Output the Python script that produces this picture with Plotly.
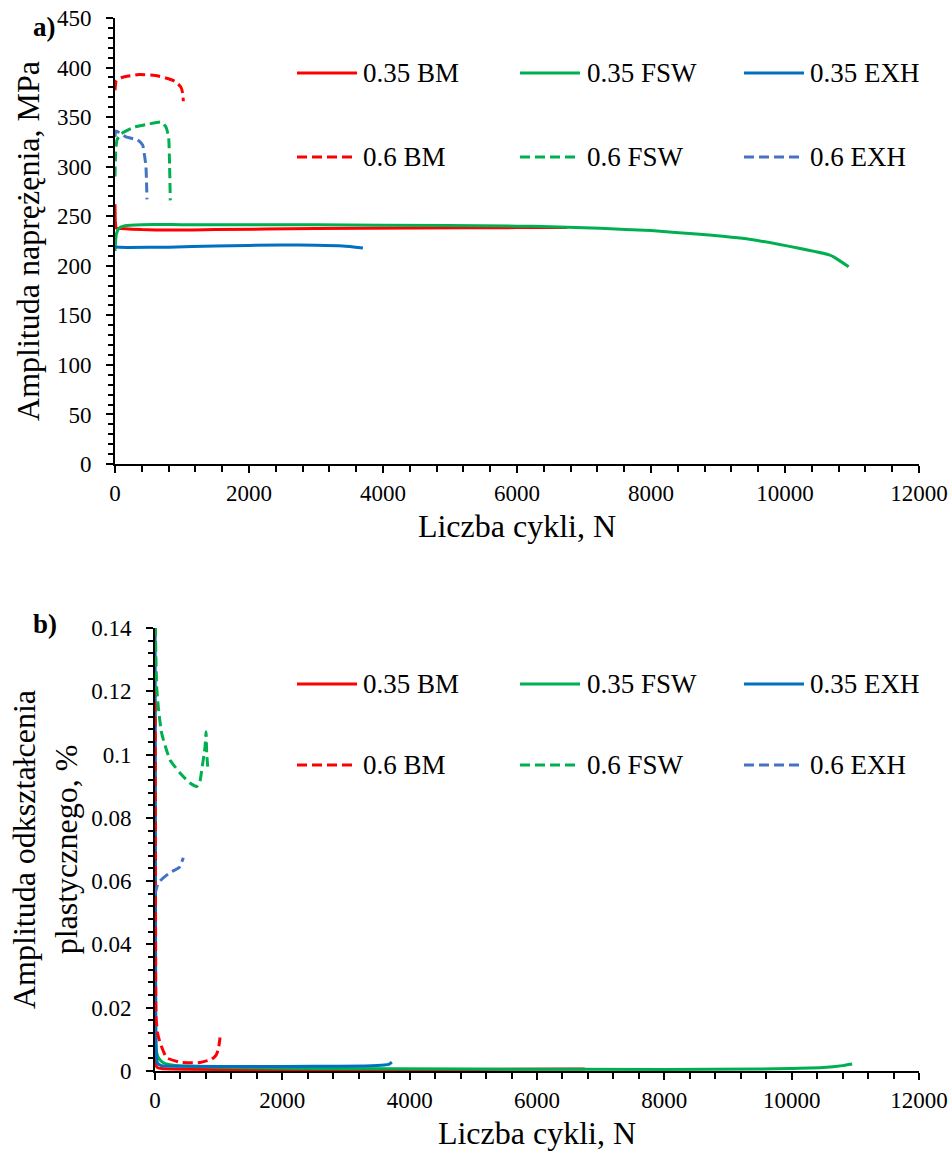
import plotly.graph_objects as go

# ---------------- data: (a) stress amplitude ----------------
bm35_n = [0, 5, 20, 100, 400, 800, 1500, 3000, 4500, 6000, 6750]
bm35_s = [262, 245, 238, 237.5, 236.5, 236, 236.5, 237.5, 238, 238.5, 238.5]

fsw35_n = [0, 20, 60, 150, 400, 1000, 2000, 4000, 6000, 6500, 7240, 8000, 8730, 9470, 10210, 10660, 10750, 10950]
fsw35_s = [215, 232, 238, 240.5, 241.5, 241.5, 241.5, 241, 240, 239.5, 237.8, 235.5, 231.7, 226.7, 217.6, 211, 208, 199]

exh35_n = [0, 200, 800, 1500, 2500, 3000, 3400, 3700]
exh35_s = [219, 218.5, 218.8, 220, 221, 220.8, 220, 218]

bm06_n = [0, 20, 100, 357, 600, 785, 900, 985, 1010, 1020]
bm06_s = [377, 387, 390, 393, 392, 389, 386, 380, 374, 366]

fsw06_n = [0, 10, 30, 90, 290, 500, 690, 760, 800, 815, 825]
fsw06_s = [290, 315, 327, 333, 340, 343, 345, 340, 330, 300, 266]

exh06_n = [0, 15, 164, 337, 412, 437, 462, 477]
exh06_s = [330, 336, 330, 327, 322, 313, 300, 267]

# ---------------- data: (b) plastic strain amplitude ----------------
bm35e_n = [1, 10, 30, 100, 1000, 3000, 5000, 6750]
bm35e_e = [0.012, 0.003, 0.0012, 0.0008, 0.0005, 0.0005, 0.0005, 0.0006]

fsw35e_n = [1, 10, 30, 60, 131, 288, 1000, 2500, 5000, 8000, 9500, 10000, 10500, 10800, 10950]
fsw35e_e = [0.012, 0.009, 0.0055, 0.004, 0.0026, 0.0018, 0.0012, 0.0008, 0.0006, 0.0005, 0.0006, 0.0008, 0.0011, 0.0017, 0.0022]

exh35e_n = [0, 5, 10, 20, 40, 100, 500, 1500, 2500, 3300, 3600, 3680, 3720]
exh35e_e = [0.15, 0.1, 0.03, 0.006, 0.0025, 0.0017, 0.0015, 0.0014, 0.0015, 0.0016, 0.0019, 0.0022, 0.0028]

bm06e_n = [0, 5, 10, 16, 40, 79, 184, 393, 680, 890, 960, 995, 1022]
bm06e_e = [0.15, 0.08, 0.03, 0.0172, 0.012, 0.009, 0.0042, 0.0028, 0.0026, 0.0037, 0.005, 0.0069, 0.0106]

fsw06e_n = [0, 5, 15, 26, 52, 105, 236, 393, 550, 655, 700, 734, 770, 786, 802, 812, 828]
fsw06e_e = [0.15, 0.14, 0.13, 0.1215, 0.115, 0.1067, 0.0983, 0.0942, 0.091, 0.0899, 0.091, 0.0951, 0.1, 0.1025, 0.1072, 0.1005, 0.0962]

exh06e_n = [0, 52, 236, 380, 445]
exh06e_e = [0.0558, 0.0595, 0.0627, 0.0643, 0.0674]

names = ["0.35 BM", "0.35 FSW", "0.35 EXH", "0.6 BM", "0.6 FSW", "0.6 EXH"]
colors = ["#FF0000", "#00B050", "#0070C0", "#FF0000", "#00B050", "#4472C4"]
dashes = ["solid", "solid", "solid", "10px,5px", "10px,5px", "10px,5px"]

top_series = [(bm35_n, bm35_s), (fsw35_n, fsw35_s), (exh35_n, exh35_s),
              (bm06_n, bm06_s), (fsw06_n, fsw06_s), (exh06_n, exh06_s)]
bot_series = [(bm35e_n, bm35e_e), (fsw35e_n, fsw35e_e), (exh35e_n, exh35e_e),
              (bm06e_n, bm06e_e), (fsw06e_n, fsw06e_e), (exh06e_n, exh06e_e)]

W, H = 951, 1155
FONT = "Liberation Serif"

fig = go.Figure()
for i in range(6):
    x, y = top_series[i]
    fig.add_trace(go.Scatter(x=x, y=y, mode="lines", name=names[i], showlegend=False,
                             line=dict(color=colors[i], width=3, dash=dashes[i], shape="spline", smoothing=0.5),
                             xaxis="x", yaxis="y"))
for i in range(6):
    x, y = bot_series[i]
    fig.add_trace(go.Scatter(x=x, y=y, mode="lines", name=names[i], showlegend=False,
                             line=dict(color=colors[i], width=3, dash=dashes[i], shape="spline", smoothing=0.5),
                             xaxis="x2", yaxis="y2"))

def px(xp):
    return xp / W

def py(yp):
    return 1 - yp / H

axis_common = dict(showgrid=False, zeroline=False, showline=True, linecolor="black", linewidth=2,
                   ticks="outside", ticklen=7, tickwidth=2, tickcolor="black", automargin=False,
                   ticklabeloverflow="allow",
                   tickfont=dict(family=FONT, size=23, color="black"))

fig.update_layout(
    template="none",
    width=W, height=H, autosize=False,
    margin=dict(l=0, r=0, t=0, b=0, pad=0),
    paper_bgcolor="white", plot_bgcolor="white",
    font=dict(family=FONT, color="black"),
    showlegend=False,
    xaxis=dict(domain=[px(115), px(919)], range=[0, 12000], dtick=2000, tickformat="d", anchor="y",
               minor=dict(dtick=400, ticks="outside", ticklen=6, tickwidth=2, tickcolor="black"),
               ticklabelstandoff=0,
               title=dict(text="Liczba cykli, N", font=dict(family=FONT, size=32, color="black"), standoff=10),
               **axis_common),
    yaxis=dict(domain=[py(464), py(18)], range=[0, 450], dtick=50, tickformat="d", anchor="x",
               minor=dict(dtick=10, ticks="outside", ticklen=5, tickwidth=2, tickcolor="black"),
               ticklabelstandoff=10,
               title=dict(text="Amplituda naprężęnia, MPa", font=dict(family=FONT, size=32, color="black"), standoff=8),
               **axis_common),
    xaxis2=dict(domain=[px(155), px(919)], range=[0, 12000], dtick=2000, tickformat="d", anchor="y2",
                minor=dict(dtick=400, ticks="outside", ticklen=6, tickwidth=2, tickcolor="black"),
                ticklabelstandoff=0,
                title=dict(text="Liczba cykli, N", font=dict(family=FONT, size=32, color="black"), standoff=10),
                **axis_common),
    yaxis2=dict(domain=[py(1071), py(628)], range=[0, 0.14], anchor="x2",
                tickvals=[0, 0.02, 0.04, 0.06, 0.08, 0.1, 0.12, 0.14],
                ticktext=["0", "0.02", "0.04", "0.06", "0.08", "0.1", "0.12", "0.14"],
                minor=dict(dtick=0.004, ticks="outside", ticklen=5, tickwidth=2, tickcolor="black"),
                ticklabelstandoff=10,
                title=dict(text="Amplituda odkształcenia<br>plastycznego, %", font=dict(family=FONT, size=32, color="black"), standoff=4),
                **axis_common),
)

# manual legends (two blocks, same entries)
leg_cols = [(297, 357, 361), (520, 580, 585), (744, 804, 808)]
leg_rows_top = [73, 157]
leg_rows_bot = [684, 765]
for rows in (leg_rows_top, leg_rows_bot):
    for i in range(6):
        r, c = divmod(i, 3)
        x0, x1, xt = leg_cols[c]
        yy = rows[r]
        fig.add_shape(type="line", xref="paper", yref="paper",
                      x0=px(x0), x1=px(x1), y0=py(yy), y1=py(yy),
                      line=dict(color=colors[i], width=3, dash=dashes[i]))
        fig.add_annotation(x=px(xt), y=py(yy), xref="paper", yref="paper", text=names[i],
                           showarrow=False, xanchor="left", yanchor="middle",
                           font=dict(family=FONT, size=27, color="black"))

fig.add_annotation(x=px(44), y=py(27), xref="paper", yref="paper", text="<b>a)</b>",
                   showarrow=False, xanchor="center", yanchor="middle",
                   font=dict(family=FONT, size=27, color="black"))
fig.add_annotation(x=px(45), y=py(624), xref="paper", yref="paper", text="<b>b)</b>",
                   showarrow=False, xanchor="center", yanchor="middle",
                   font=dict(family=FONT, size=27, color="black"))

fig.write_html("out.html", config={"displayModeBar": False},
               post_script="document.body.style.margin='0';")
